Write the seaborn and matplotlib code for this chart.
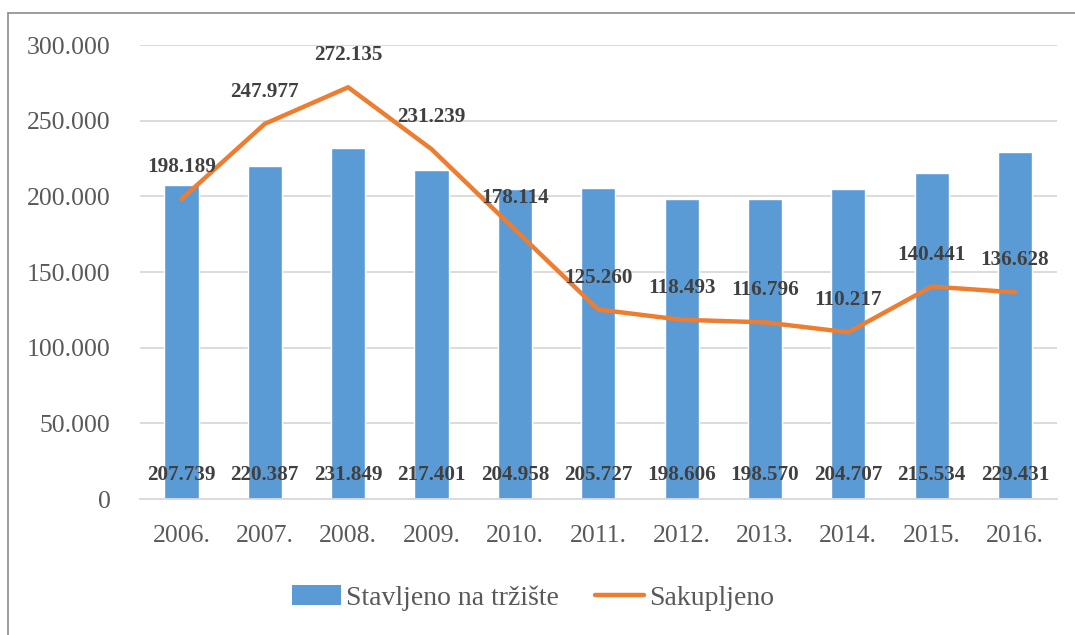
import matplotlib
matplotlib.use("Agg")
import matplotlib.pyplot as plt
import seaborn as sns
import pandas as pd
from matplotlib.lines import Line2D
from matplotlib.patches import Patch
from matplotlib.ticker import FuncFormatter

years = ["2006.", "2007.", "2008.", "2009.", "2010.", "2011.", "2012.", "2013.", "2014.", "2015.", "2016."]
placed = [207739, 220387, 231849, 217401, 204958, 205727, 198606, 198570, 204707, 215534, 229431]
collected = [198189, 247977, 272135, 231239, 178114, 125260, 118493, 116796, 110217, 140441, 136628]
series_names = ["Stavljeno na tržište", "Sakupljeno"]
yticks = [0, 50000, 100000, 150000, 200000, 250000, 300000]

def fmt(v):
    return f"{v:,.0f}".replace(",", ".")

sns.set_theme(style="white")
plt.rcParams["font.family"] = ["Liberation Serif", "DejaVu Serif"]

BLUE = "#5B9BD5"
ORANGE = "#ED7D31"
TICK = "#595959"
LAB = "#404040"

df = pd.DataFrame({"year": years, "placed": placed, "collected": collected})

fig = plt.figure(figsize=(10.75, 6.35), dpi=100)
ax = fig.add_axes([0.130, 0.214, 0.853, 0.715])

sns.barplot(data=df, x="year", y="placed", color=BLUE, saturation=1, width=0.41, ax=ax, zorder=2)
sns.pointplot(data=df, x="year", y="collected", color=ORANGE, markers="", ax=ax,
              linewidth=3.2, zorder=3, errorbar=None)
for ln in ax.lines:
    ln.set_solid_capstyle("round")
    ln.set_solid_joinstyle("round")

ax.set_ylim(0, 300000)
ax.set_xlim(-0.5, len(years) - 0.5)
ax.set_yticks(yticks)
ax.yaxis.set_major_formatter(FuncFormatter(lambda v, p: fmt(v) if v != 0 else "0"))
ax.grid(axis="y", color="#D9D9D9", linewidth=1.3, zorder=0)
ax.set_axisbelow(True)
for s in ["top", "right", "left"]:
    ax.spines[s].set_visible(False)
ax.spines["bottom"].set_color("#D9D9D9")
ax.spines["bottom"].set_linewidth(1.3)
ax.tick_params(axis="both", length=0, labelsize=18.5, labelcolor=TICK)
ax.tick_params(axis="y", pad=21)
ax.tick_params(axis="x", pad=19)
ax.set_xlabel("")
ax.set_ylabel("")

for i, v in enumerate(placed):
    ax.annotate(fmt(v), xy=(i, 0), xytext=(0, 17), textcoords="offset points",
                ha="center", va="center", fontsize=15.2, fontweight="bold", color=LAB, zorder=5)
for i, v in enumerate(collected):
    ax.annotate(fmt(v), xy=(i, v), xytext=(0, 23), textcoords="offset points",
                ha="center", va="center", fontsize=15.2, fontweight="bold", color=LAB, zorder=5)

handles = [Patch(facecolor=BLUE, edgecolor="none"),
           Line2D([0], [0], color=ORANGE, linewidth=3.2, solid_capstyle="round")]
leg = fig.legend(handles, series_names, loc="center", bbox_to_anchor=(0.496, 0.058), ncol=2,
                 frameon=False, fontsize=20, handlelength=1.75, handletextpad=0.2,
                 columnspacing=1.3)
for t in leg.get_texts():
    t.set_color(TICK)

# outer chart border (left and top visible)
bx = 8 / 1075
by = 1 - 13 / 635
fig.add_artist(Line2D([bx, bx], [0, by], transform=fig.transFigure, color="#8C8C8C", linewidth=1.2))
fig.add_artist(Line2D([bx, 1], [by, by], transform=fig.transFigure, color="#8C8C8C", linewidth=1.2))

fig.savefig("out.png", dpi=100)
